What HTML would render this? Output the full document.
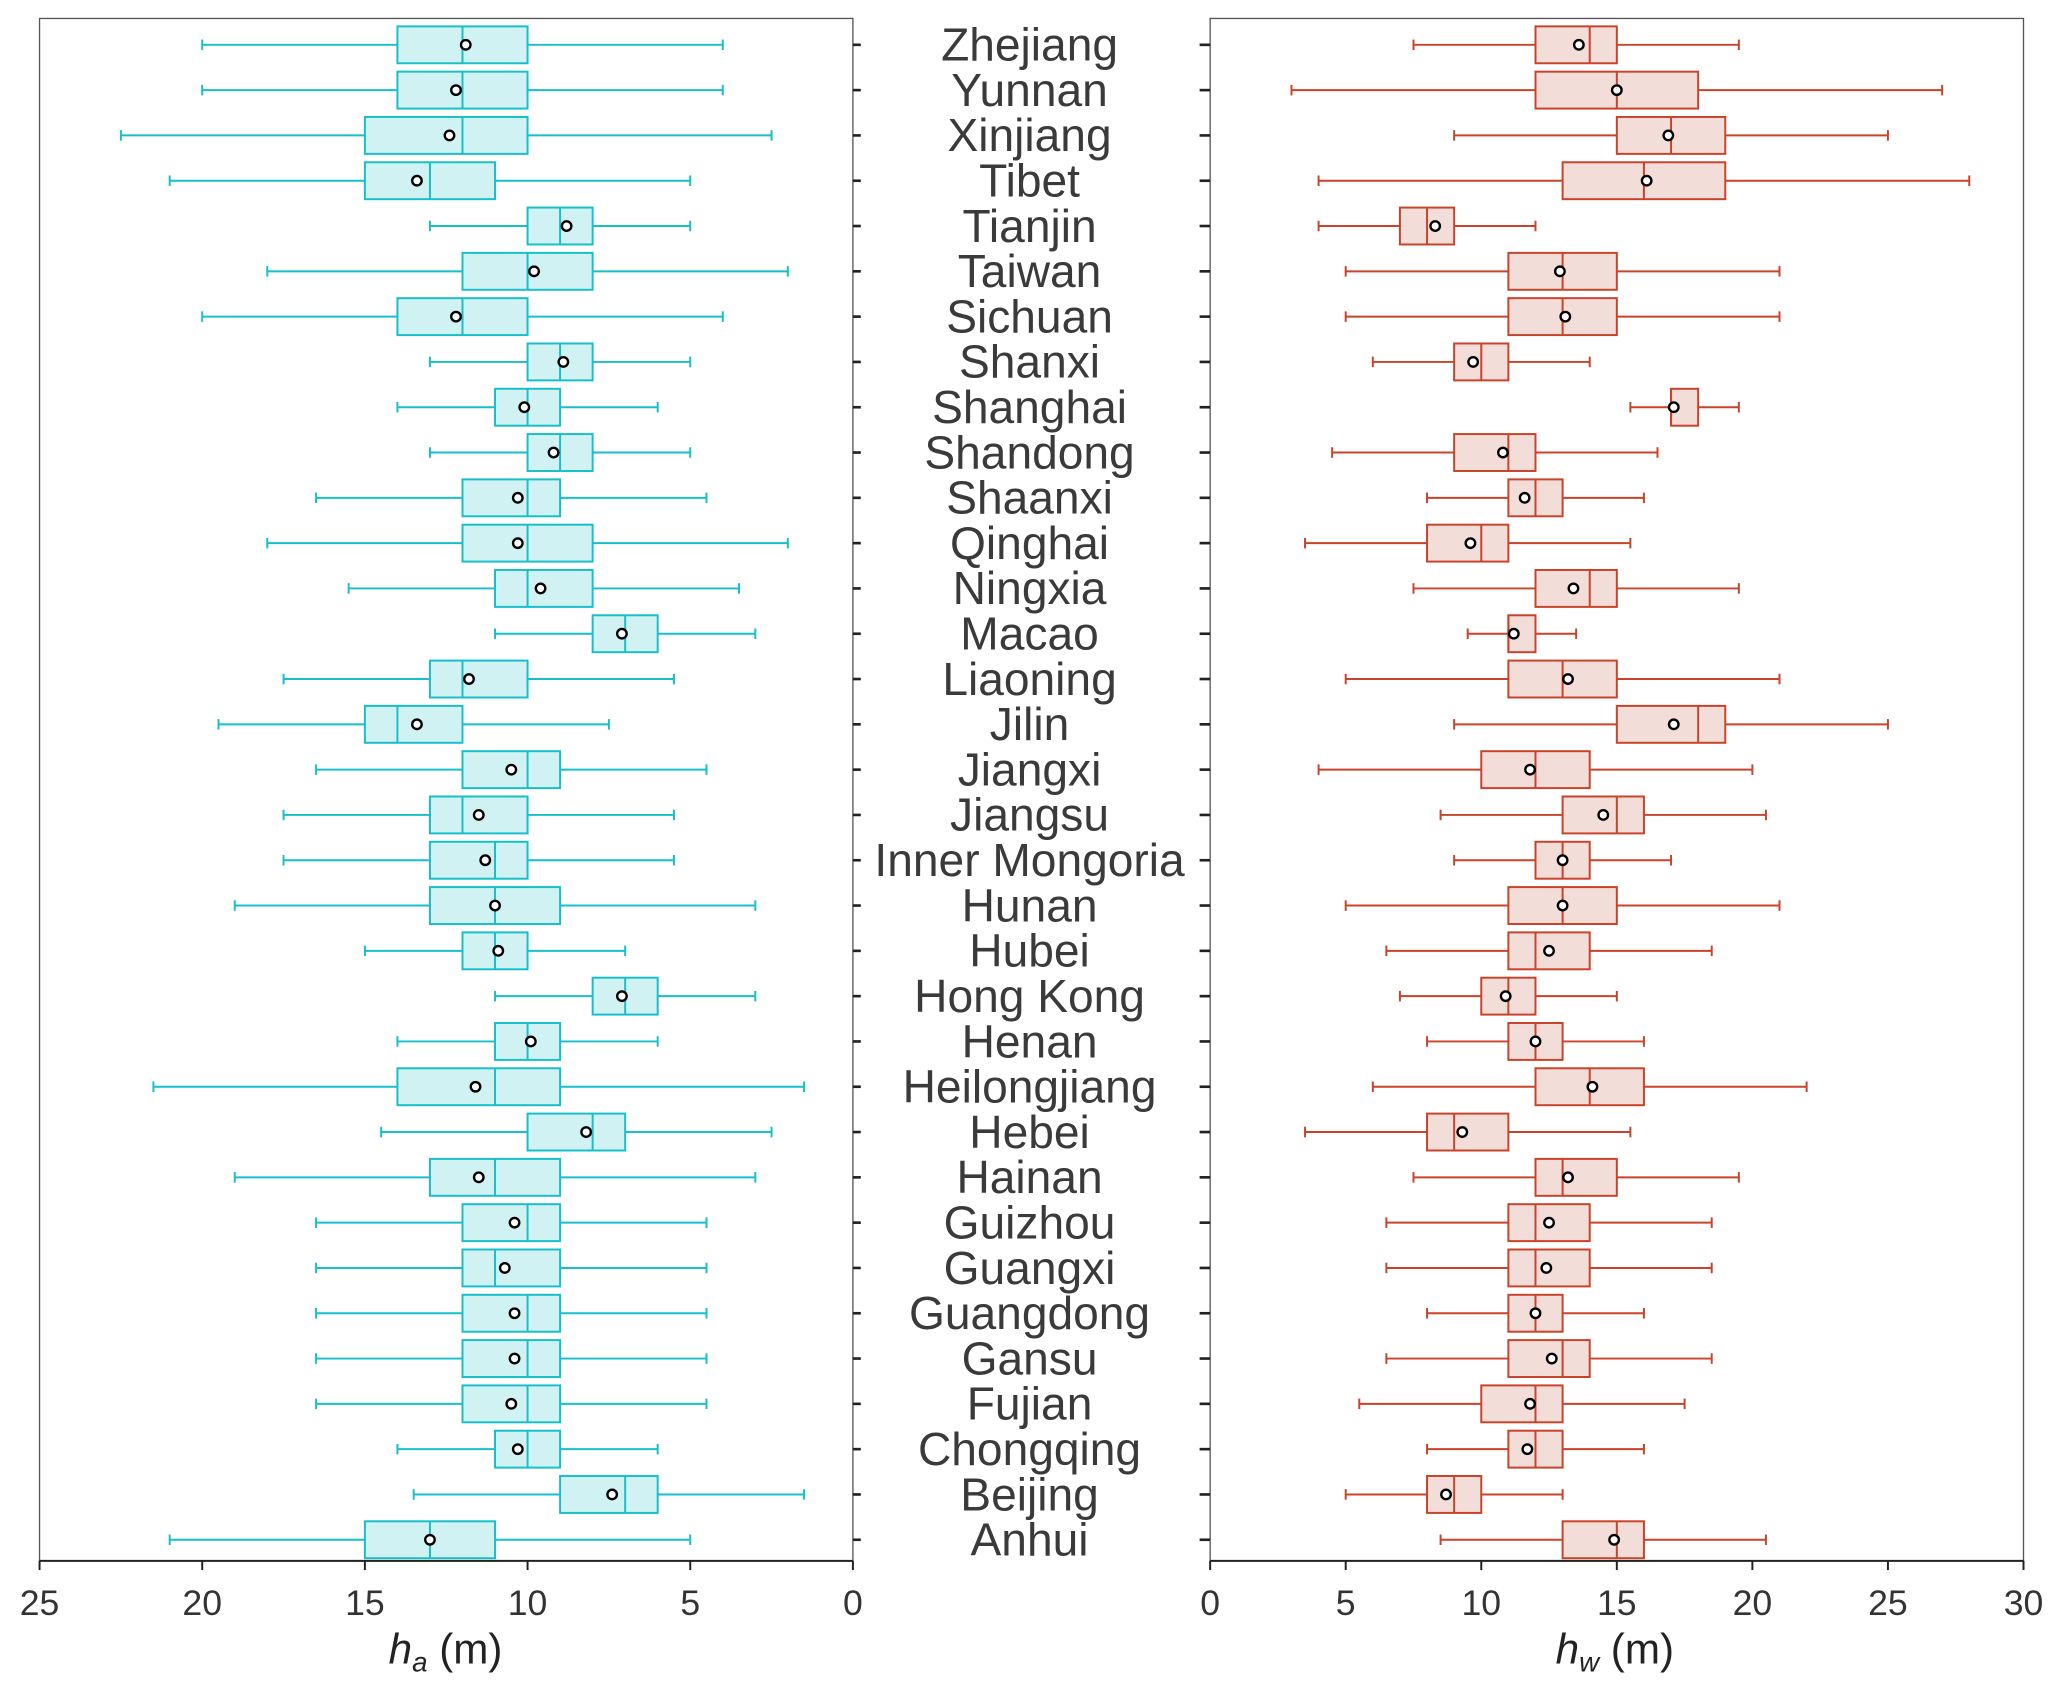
<!DOCTYPE html>
<html><head><meta charset="utf-8"><style>
html,body{margin:0;padding:0;background:#fff;}
svg{display:block;font-family:"Liberation Sans",Arial,sans-serif;}
</style></head><body>
<svg id="chart" width="2067" height="1694" viewBox="0 0 1568 1285" preserveAspectRatio="none" xmlns="http://www.w3.org/2000/svg"></svg>
<script>
const provinces = ["Zhejiang","Yunnan","Xinjiang","Tibet","Tianjin","Taiwan","Sichuan","Shanxi","Shanghai","Shandong","Shaanxi","Qinghai","Ningxia","Macao","Liaoning","Jilin","Jiangxi","Jiangsu","Inner Mongoria","Hunan","Hubei","Hong Kong","Henan","Heilongjiang","Hebei","Hainan","Guizhou","Guangxi","Guangdong","Gansu","Fujian","Chongqing","Beijing","Anhui"];
// ha: [whiskerLow, q1, median, q3, whiskerHigh, mean]
const haStats = [
[4,10,12,14,20,11.9],[4,10,12,14,20,12.2],[2.5,10,12,15,22.5,12.4],[5,11,13,15,21,13.4],
[5,8,9,10,13,8.8],[2,8,10,12,18,9.8],[4,10,12,14,20,12.2],[5,8,9,10,13,8.9],
[6,9,10,11,14,10.1],[5,8,9,10,13,9.2],[4.5,9,10,12,16.5,10.3],[2,8,10,12,18,10.3],
[3.5,8,10,11,15.5,9.6],[3,6,7,8,11,7.1],[5.5,10,12,13,17.5,11.8],[7.5,12,14,15,19.5,13.4],
[4.5,9,10,12,16.5,10.5],[5.5,10,12,13,17.5,11.5],[5.5,10,11,13,17.5,11.3],[3,9,11,13,19,11],
[7,10,11,12,15,10.9],[3,6,7,8,11,7.1],[6,9,10,11,14,9.9],[1.5,9,11,14,21.5,11.6],
[2.5,7,8,10,14.5,8.2],[3,9,11,13,19,11.5],[4.5,9,10,12,16.5,10.4],[4.5,9,11,12,16.5,10.7],
[4.5,9,10,12,16.5,10.4],[4.5,9,10,12,16.5,10.4],[4.5,9,10,12,16.5,10.5],[6,9,10,11,14,10.3],
[1.5,6,7,9,13.5,7.4],[5,11,13,15,21,13]];
const hwStats = [
[7.5,12,14,15,19.5,13.6],[3,12,15,18,27,15],[9,15,17,19,25,16.9],[4,13,16,19,28,16.1],
[4,7,8,9,12,8.3],[5,11,13,15,21,12.9],[5,11,13,15,21,13.1],[6,9,10,11,14,9.7],
[15.5,17,17,18,19.5,17.1],[4.5,9,11,12,16.5,10.8],[8,11,12,13,16,11.6],[3.5,8,10,11,15.5,9.6],
[7.5,12,14,15,19.5,13.4],[9.5,11,11,12,13.5,11.2],[5,11,13,15,21,13.2],[9,15,18,19,25,17.1],
[4,10,12,14,20,11.8],[8.5,13,15,16,20.5,14.5],[9,12,13,14,17,13],[5,11,13,15,21,13],
[6.5,11,12,14,18.5,12.5],[7,10,11,12,15,10.9],[8,11,12,13,16,12],[6,12,14,16,22,14.1],
[3.5,8,9,11,15.5,9.3],[7.5,12,13,15,19.5,13.2],[6.5,11,12,14,18.5,12.5],[6.5,11,12,14,18.5,12.4],
[8,11,12,13,16,12],[6.5,11,13,14,18.5,12.6],[5.5,10,12,13,17.5,11.8],[8,11,12,13,16,11.7],
[5,8,9,10,13,8.7],[8.5,13,15,16,20.5,14.9]];
const haTicks = [25,20,15,10,5,0];
const hwTicks = [0,5,10,15,20,25,30];

const NS="http://www.w3.org/2000/svg";
const svg=document.getElementById('chart');
function mk(tag,attrs,parent){const e=document.createElementNS(NS,tag);for(const k in attrs)e.setAttribute(k,attrs[k]);(parent||svg).appendChild(e);return e;}
const topY=14, bottom=1184, row0=34, rowStep=(1168-34)/33, bh=28;
const yRow=i=>row0+i*rowStep;
const xHa=v=>647-v*(617/25);
const xHw=v=>918+v*(617/30);

function panel(stats,xf,x0,x1,stroke,fill,name){
  const g=mk('g',{});
  
  
  const fr=mk('rect',{x:x0,y:topY,width:x1-x0,height:bottom-topY,fill:'none',stroke:'#555','stroke-width':1},g);
  
  
  stats.forEach((s,i)=>{
    const y=yRow(i);
    const b=mk('g',{},g);
    
    
    const a=xf(s[0]),q1=xf(s[1]),m=xf(s[2]),q3=xf(s[3]),c=xf(s[4]),mu=xf(s[5]);
    mk('line',{x1:Math.min(a,q1),x2:Math.max(a,q1),y1:y,y2:y,stroke:stroke,'stroke-width':1.5},b);
    mk('line',{x1:Math.min(c,q3),x2:Math.max(c,q3),y1:y,y2:y,stroke:stroke,'stroke-width':1.5},b);
    mk('line',{x1:a,x2:a,y1:y-4,y2:y+4,stroke:stroke,'stroke-width':1.5},b);
    mk('line',{x1:c,x2:c,y1:y-4,y2:y+4,stroke:stroke,'stroke-width':1.5},b);
    mk('rect',{x:Math.min(q1,q3),y:y-bh/2,width:Math.abs(q3-q1),height:bh,fill:fill,stroke:stroke,'stroke-width':1.5},b);
    mk('line',{x1:m,x2:m,y1:y-bh/2,y2:y+bh/2,stroke:stroke,'stroke-width':1.5},b);
    mk('circle',{cx:mu,cy:y,r:3.6,fill:'#fff',stroke:'#000','stroke-width':1.8},b);
  });
  mk('line',{x1:x0,x2:x1,y1:bottom,y2:bottom,stroke:'#222','stroke-width':1.5},g);
  return g;
}
panel(haStats,xHa,30,647,'#17bfc9','#d1f2f2','ha-panel');
panel(hwStats,xHw,918,1535,'#c8432a','#f2ddd8','hw-panel');

function ticks(vals,xf,name){
  vals.forEach(v=>{
    const x=xf(v);
    mk('line',{x1:x,x2:x,y1:bottom,y2:bottom+7,stroke:'#222','stroke-width':1.5});
    const t=mk('text',{x:x,y:1225,'font-size':27,'text-anchor':'middle',fill:'#333'});
    t.textContent=v;
    
    
  });
}
ticks(haTicks,xHa,'ha-axis');
ticks(hwTicks,xHw,'hw-axis');

provinces.forEach((p,i)=>{
  const y=yRow(i);
  mk('line',{x1:647,x2:653,y1:y,y2:y,stroke:'#222','stroke-width':2});
  mk('line',{x1:910,x2:918,y1:y,y2:y,stroke:'#222','stroke-width':2});
  const t=mk('text',{x:781,y:y+12,'font-size':35,'text-anchor':'middle',fill:'#3a3a3a'});
  t.textContent=p;
  
  
});

function title(x,sub,name){
  const t=mk('text',{x:x,y:1262,'font-size':32,'text-anchor':'middle',fill:'#222'});
  
  
  const a=mk('tspan',{'font-style':'italic'},t);a.textContent='h';
  const b=mk('tspan',{'font-style':'italic','font-size':21,dy:6},t);b.textContent=sub;
  const c=mk('tspan',{dy:-6},t);c.textContent=' (m)';
}
title(338,'a','ha-axis-title');
title(1225,'w','hw-axis-title');
</script>
</body></html>
